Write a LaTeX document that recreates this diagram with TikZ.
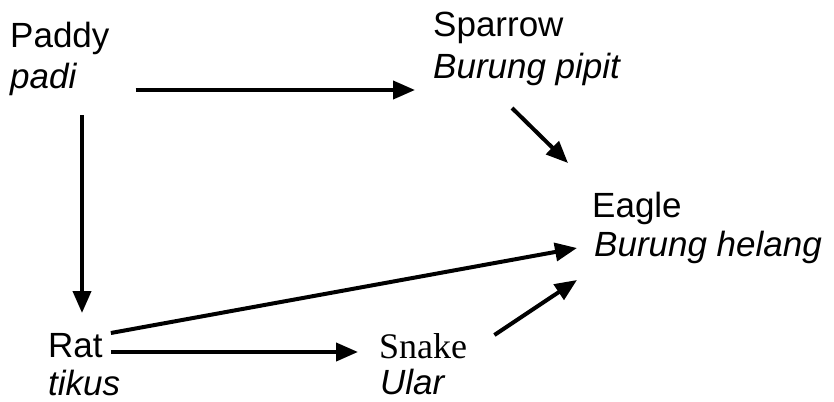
\documentclass[tikz,border=0pt]{standalone}
\usepackage{fontspec}
\setmainfont{Liberation Sans}
\newfontfamily\snakefont{Liberation Serif}
\usetikzlibrary{arrows.meta,calc}

\begin{document}
\begin{tikzpicture}[x=1pt,y=-1pt,
  animal/.style={anchor=base west,inner sep=0pt,font=\fontsize{35}{42}\selectfont},
  local/.style={animal,font=\fontsize{35}{42}\selectfont\itshape},
  eats/.style={line width=4pt,-{Triangle[length=22pt,width=18pt]}}]
\useasboundingbox (0,0) rectangle (834,401);
% names of the animals
\node[animal] (paddy) at (10,48) {Paddy};
\node[local] (padi) at (10,89) {padi};
\node[animal] (sparrow) at (433,37) {Sparrow};
\node[local] (pipit) at (433,79) {Burung pipit};
\node[animal] (eagle) at (592,217) {Eagle};
\node[local] (helang) at (594,256) {Burung helang};
\node[animal] (rat) at (48,357) {Rat};
\node[local] (tikus) at (48,395) {tikus};
\node[animal,font=\fontsize{36}{42}\snakefont] (snake) at (379,358) {Snake};
\node[local] (ular) at (380,394) {Ular};
% who is eaten by whom
\draw[eats] ($(padi.base east)+(59,1)$) -- ($(pipit.base west)+(-18,11)$);
\draw[eats] ($(rat.base west)+(34,-242)$) -- ($(rat.base west)+(34,-44)$);
\draw[eats] ($(pipit.base west)+(79,29)$) -- ($(eagle.base west)+(-24,-54)$);
\draw[eats] ($(rat.base east)+(8,-24)$) -- ($(helang.base west)+(-17,-8)$);
\draw[eats] ($(rat.base east)+(8,-5)$) -- ($(snake.base west)+(-21,-6)$);
\draw[eats] ($(snake.base east)+(27,-23)$) -- ($(helang.base west)+(-17,24)$);
\end{tikzpicture}
\end{document}
